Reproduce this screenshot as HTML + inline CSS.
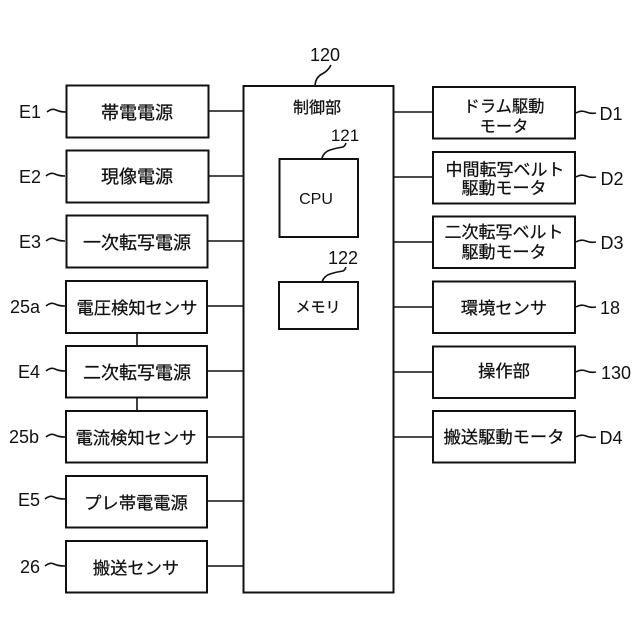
<!DOCTYPE html>
<html><head><meta charset="utf-8"><style>
html,body{margin:0;padding:0;background:#fff}
svg{display:block}
text{font-family:"Liberation Sans","Noto Sans CJK JP",sans-serif;fill:#111;font-size:17.5px;text-anchor:middle}
.j{font-size:18px;stroke:#111;stroke-width:.25}
.s{font-size:17.3px;stroke:#111;stroke-width:.25}
.m{text-anchor:middle;font-size:18px}
rect{fill:#fff;stroke:#111;stroke-width:2}
path{fill:none;stroke:#111;stroke-width:1.6}
</style></head><body>
<svg width="640" height="640" viewBox="0 0 640 640" xmlns="http://www.w3.org/2000/svg">
<path d="M208 111H243M208 176H243M208 241H243M207 306H243M207 371H243M207 437H243M207 501H243M207 566H243M393 112H433M393 177H433M393 242H433M393 307H433M393 372H433M393 437H433M137 333V346M137 397V411"/>
<rect x="66.500" y="85.500" width="142" height="52"/>
<rect x="66.500" y="150.500" width="142" height="52"/>
<rect x="66.500" y="215.500" width="141" height="52"/>
<rect x="66" y="281" width="141" height="52"/>
<rect x="66" y="346" width="141" height="51.500"/>
<rect x="66" y="411" width="141" height="51.500"/>
<rect x="66" y="476" width="141" height="51.500"/>
<rect x="66" y="541" width="141" height="51.500"/>
<rect x="243.500" y="86" width="150" height="506.500"/>
<rect x="279.500" y="159" width="78.500" height="78"/>
<rect x="279" y="282" width="79" height="47"/>
<rect x="433" y="87" width="142" height="51.500"/>
<rect x="433" y="152" width="142" height="51.500"/>
<rect x="433" y="216.500" width="142" height="51.500"/>
<rect x="433" y="281.500" width="142" height="51.500"/>
<rect x="433" y="346.500" width="142" height="51.500"/>
<rect x="433" y="411" width="142" height="51.500"/>
<path d="M47 112q5-4 9-2t10 2M46 176q5-4 9-2t10 2M46 241q5-4 9-2t10 2M46 306q5-4 9-2t10 2M46 371q5-4 9-2t10 2M46 437q5-4 9-2t10 2M45 499q5-4 9-2t11 2M45 566q5-4 9-2t11 2"/>
<path d="M576 113q5-3 10-1t10 1M576 177q5-3 10-1t10 1M576 242q5-3 10-1t10 1M576 307q5-3 10-1t10 1M576 372q5-3 10-1t10 1M576 437q5-3 10-1t10 1"/>
<path d="M315 85q1-8 7-11t9-9M322 158q2-6 8-8t13-3q2-1 3-4M322 282q2-6 8-8t13-3q2-1 3-4"/>
<text class="j" x="137" y="119">帯電電源</text>
<text class="j" x="137" y="183">現像電源</text>
<text class="j" x="137" y="249">一次転写電源</text>
<text class="s" x="137" y="314">電圧検知センサ</text>
<text class="j" x="137" y="379">二次転写電源</text>
<text class="s" x="136" y="444">電流検知センサ</text>
<text class="s" x="136" y="509">プレ帯電電源</text>
<text class="s" x="136" y="574">搬送センサ</text>
<text class="j" x="317" y="113" style="font-size:16px">制御部</text>
<text x="316" y="204" style="font-size:16px">CPU</text>
<text class="j" x="318" y="312" style="font-size:15px">メモリ</text>
<text class="s" x="504" y="112" style="font-size:16.3px">ドラム駆動</text>
<text class="s" x="504" y="132" style="font-size:16.3px">モータ</text>
<text class="s" x="505" y="175.500" style="font-size:17px">中間転写ベルト</text>
<text class="s" x="504" y="194" style="font-size:17px">駆動モータ</text>
<text class="s" x="504" y="238" style="font-size:17px">二次転写ベルト</text>
<text class="s" x="504" y="258" style="font-size:17px">駆動モータ</text>
<text class="s" x="504" y="314">環境センサ</text>
<text class="s" x="504" y="377">操作部</text>
<text class="s" x="504" y="443">搬送駆動モータ</text>
<text class="m" x="30" y="118">E1</text>
<text class="m" x="30" y="183">E2</text>
<text class="m" x="30" y="248">E3</text>
<text class="m" x="25" y="313">25a</text>
<text class="m" x="29" y="378">E4</text>
<text class="m" x="24" y="443">25b</text>
<text class="m" x="29" y="506">E5</text>
<text class="m" x="30" y="573">26</text>
<text class="m" x="611" y="120">D1</text>
<text class="m" x="612" y="185">D2</text>
<text class="m" x="612" y="249">D3</text>
<text class="m" x="610" y="314">18</text>
<text class="m" x="616" y="379">130</text>
<text class="m" x="611" y="444">D4</text>
<text class="m" x="325" y="61">120</text>
<text class="m" x="345" y="141" style="font-size:17px">121</text>
<text class="m" x="343" y="264">122</text>
</svg>
</body></html>
